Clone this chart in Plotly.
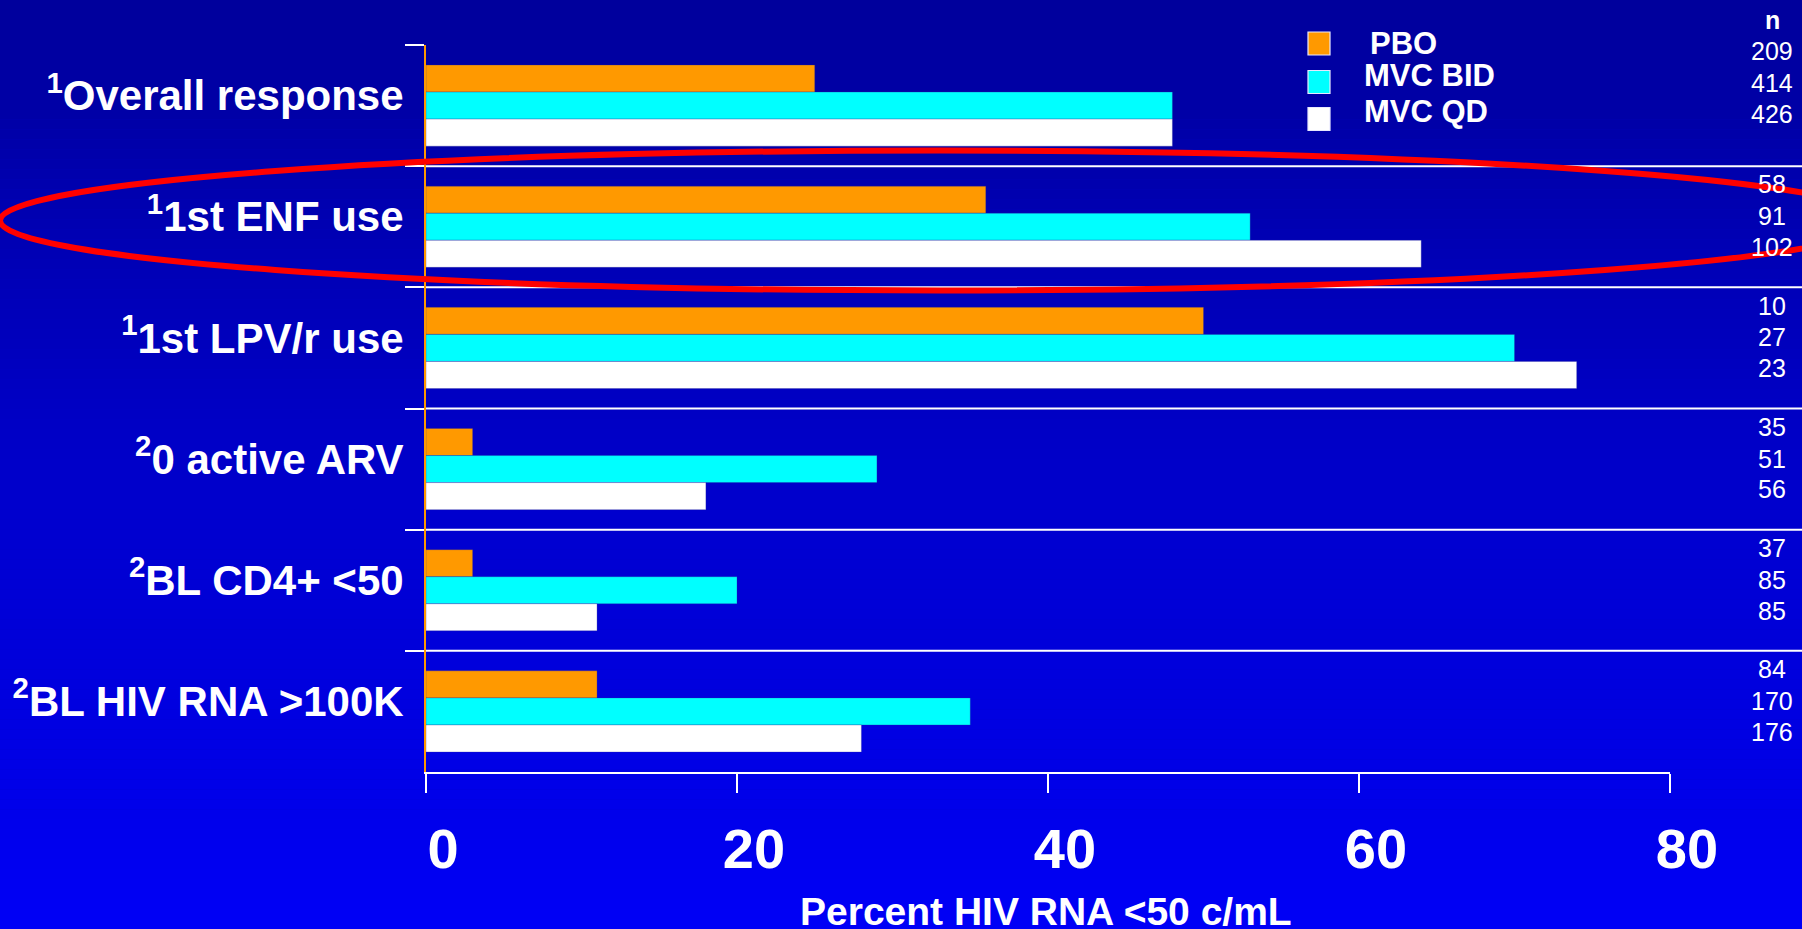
import plotly.graph_objects as go

# ---- data -------------------------------------------------------------
subgroups = ["Overall response", "1st ENF use", "1st LPV/r use",
             "0 active ARV", "BL CD4+ <50", "BL HIV RNA >100K"]
footnotes = [1, 1, 1, 2, 2, 2]

series_names = ["PBO", "MVC BID", "MVC QD"]
pbo = [25, 36, 50, 3, 3, 11]
mvc_bid = [48, 53, 70, 29, 20, 35]
mvc_qd = [48, 64, 74, 18, 11, 28]

n_pbo = [209, 58, 10, 35, 37, 84]
n_bid = [414, 91, 27, 51, 85, 170]
n_qd = [426, 102, 23, 56, 85, 176]

x_ticks = [0, 20, 40, 60, 80]

# ---- styling / geometry -----------------------------------------------
W, H = 1802, 929
ML, MR, MT, MB = 426, 132, 45, 157
PW, PH = W - ML - MR, H - MT - MB
FONT = "Arial, Liberation Sans, Helvetica, sans-serif"
colors = ["#FF9900", "#00FFFF", "#FFFFFF"]


def px_x(px):
    return (px - ML) / PW


def px_y(py):
    return (H - MB - py) / PH


categories = [f"<sup>{f}</sup>{s}" for f, s in zip(footnotes, subgroups)]

fig = go.Figure()
for name, vals, col in zip(series_names, [pbo, mvc_bid, mvc_qd], colors):
    fig.add_trace(go.Bar(
        y=categories, x=vals, name=name, orientation="h",
        marker=dict(color=col, line=dict(color="rgba(40,40,150,0.6)", width=0.5)),
        showlegend=False, hoverinfo="x+name",
    ))

shapes = []

# vertical blue gradient behind everything
N = 93
top_rgb, bot_rgb = (0, 0, 156), (0, 0, 246)
for i in range(N):
    t = (i + 0.5) / N
    c = tuple(round(a + (b - a) * t) for a, b in zip(top_rgb, bot_rgb))
    shapes.append(dict(
        type="rect", xref="paper", yref="paper", layer="below",
        x0=px_x(0), x1=px_x(W), y0=px_y((i + 1) * H / N), y1=px_y(i * H / N),
        fillcolor=f"rgb{c}", line=dict(width=0),
    ))

# separators between subgroups, running to the right edge
for k in range(1, len(subgroups)):
    shapes.append(dict(
        type="line", xref="paper", yref="y", x0=0, x1=px_x(W),
        y0=k - 0.5, y1=k - 0.5, line=dict(color="white", width=2),
    ))

# highlight ring around the ENF row
shapes.append(dict(
    type="circle", xref="paper", yref="paper",
    x0=px_x(0), x1=px_x(1880), y0=px_y(290.5), y1=px_y(150.5),
    line=dict(color="#FF0000", width=6),
))

annotations = []

# legend
leg_y = [43.5, 82, 119]
leg_text_y = [43, 76, 112]
leg_text_x = [1368, 1362, 1362]
for col, name, sy, ty, tx in zip(colors, series_names, leg_y, leg_text_y, leg_text_x):
    shapes.append(dict(
        type="rect", xref="paper", yref="paper",
        x0=px_x(1308), x1=px_x(1330), y0=px_y(sy + 11.5), y1=px_y(sy - 11.5),
        fillcolor=col, line=dict(color="#E8E8FF", width=1.2),
    ))
    annotations.append(dict(
        xref="paper", yref="paper", x=px_x(tx), y=px_y(ty),
        xanchor="left", yanchor="middle", text=f"<b>{name}</b>", showarrow=False,
        font=dict(family=FONT, size=31, color="white"),
    ))

# n column
N_X = 1772
annotations.append(dict(
    xref="paper", yref="paper", x=px_x(N_X), y=px_y(20),
    xanchor="center", yanchor="middle", text="<b>n</b>", showarrow=False,
    font=dict(family=FONT, size=25, color="white"),
))
row_offsets = [-0.35, -0.087, 0.168]
first_row_shift = -0.1
for i, counts in enumerate(zip(n_pbo, n_bid, n_qd)):
    for off, n in zip(row_offsets, counts):
        yy = i + off + (first_row_shift if i == 0 else 0)
        annotations.append(dict(
            xref="paper", yref="y", x=px_x(N_X), y=yy,
            xanchor="center", yanchor="middle", text=str(n), showarrow=False,
            font=dict(family=FONT, size=25, color="white"),
        ))

# x-axis title
annotations.append(dict(
    xref="paper", yref="paper", x=px_x(1046), y=px_y(912),
    xanchor="center", yanchor="middle",
    text="<b>Percent HIV RNA <50 c/mL</b>", showarrow=False,
    font=dict(family=FONT, size=39, color="white"),
))

fig.update_layout(
    width=W, height=H, autosize=False,
    margin=dict(l=ML, r=MR, t=MT, b=MB, pad=0),
    paper_bgcolor="#0000C8", plot_bgcolor="rgba(0,0,0,0)",
    barmode="group", bargap=0.33, bargroupgap=0,
    shapes=shapes, annotations=annotations,
    showlegend=False,
    xaxis=dict(
        range=[0, 80], tickmode="array", tickvals=x_ticks,
        ticktext=[f"<b>{v}</b>" for v in x_ticks],
        ticks="outside", ticklen=19, tickwidth=2, tickcolor="white",
        showline=True, linecolor="white", linewidth=2,
        showgrid=False, zeroline=False, automargin=False,
        tickfont=dict(family=FONT, size=56, color="white"),
        ticklabelstandoff=8, ticklabelshift=17,
    ),
    yaxis=dict(
        type="category", categoryorder="array", categoryarray=categories,
        range=[len(categories) - 0.5, -0.5], autorange=False,
        tickson="boundaries",
        ticks="outside", ticklen=19, tickwidth=2, tickcolor="white",
        showline=True, linecolor="#FF9900", linewidth=2,
        showgrid=False, zeroline=False, automargin=False,
        tickfont=dict(family=FONT, size=42, color="white"),
        ticklabelshift=10, ticklabelstandoff=12,
    ),
)
fig.update_yaxes(tickprefix="<b>", ticksuffix="</b>")

fig.write_html("out.html")
